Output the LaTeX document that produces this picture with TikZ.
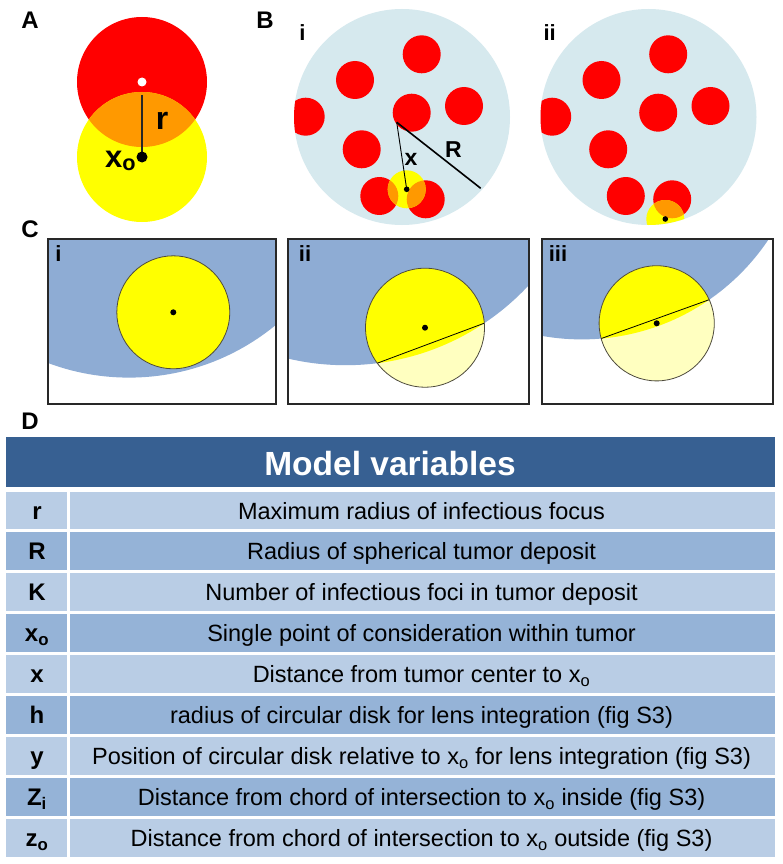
\documentclass[tikz,border=0pt]{standalone}
\usepackage{fontspec}
\setmainfont{Liberation Sans}
\usetikzlibrary{intersections}
\definecolor{redc}{RGB}{255,0,0}
\definecolor{yelc}{RGB}{255,255,0}
\definecolor{orac}{RGB}{255,153,0}
\definecolor{tumor}{RGB}{214,233,238}
\definecolor{bluec}{RGB}{142,172,212}
\definecolor{pale}{RGB}{255,255,192}
\definecolor{hdr}{RGB}{55,96,146}
\definecolor{rowL}{RGB}{185,205,229}
\definecolor{rowD}{RGB}{149,179,215}
\definecolor{framec}{RGB}{40,40,40}
\def\foci{(421.7,54.3),(355,80),(305.7,116.7),(411.7,112.7),(464,106),(361.7,149.3),(379.3,196),(425.7,199.3)}
\begin{document}
\begin{tikzpicture}[x=1pt,y=-1pt,
  panel/.style={font=\fontsize{24}{24}\selectfont\bfseries,inner sep=0pt},
  sublabel/.style={font=\fontsize{22}{22}\selectfont\bfseries,inner sep=0pt},
  boxframe/.style={draw=framec,line width=1.8pt},
  rim/.style={draw=black!80!yellow,line width=0.8pt},
  chord/.style={draw=black,line width=0.8pt},
  varfont/.style={font=\fontsize{24}{26}\selectfont\bfseries,inner sep=0pt,anchor=base},
  descfont/.style={font=\fontsize{23.5}{26}\selectfont,inner sep=0pt,anchor=base}]
\useasboundingbox (0,0) rectangle (782,864);
\fill[white] (0,0) rectangle (782,864);

% ---------- panel labels
\node[panel] (lA) at (30,20) {A};
\node[panel] (lB) at (265,20) {B};
\node[panel] (lC) at (30,229) {C};
\node[panel] (lD) at (30,421.5) {D};

% ---------- panel A
\coordinate (Ared) at (142,82);
\coordinate (xo) at (142,157);
\coordinate (Atop) at (142,95);
\fill[redc] (Ared) circle[radius=65pt];
\fill[yelc] (xo) circle[radius=65pt];
\begin{scope}
  \clip (Ared) circle[radius=65pt];
  \fill[orac] (xo) circle[radius=65pt];
\end{scope}
\fill[white] (Ared) circle[radius=4.5pt];
\draw[line width=1.3pt,black!85] (Atop) -- (xo);
\fill[black] (xo) circle[radius=5.5pt];
\node[font=\fontsize{32}{32}\selectfont\bfseries,inner sep=0pt] (lr) at (162,121) {r};
\node[font=\fontsize{31}{31}\selectfont\bfseries,inner sep=0pt,anchor=base west] (lxo) at (105,167) {x\textsubscript{o}};

% ---------- panel B i
\coordinate (Bi) at (402,117);
\fill[tumor] (Bi) circle[radius=108pt];
\begin{scope}
  \clip (Bi) circle[radius=108pt];
  \foreach \p in \foci {\fill[redc] \p circle[radius=19pt];}
\end{scope}
\coordinate (BiX) at (406.7,189.3);
\fill[yelc] (BiX) circle[radius=19pt];
\begin{scope}
  \clip (BiX) circle[radius=19pt];
  \fill[orac] (379.3,196) circle[radius=19pt];
  \fill[orac] (425.7,199.3) circle[radius=19pt];
\end{scope}
\coordinate (BiC) at (396.7,122.3);
\coordinate (BiR) at (480.7,188.3);
\draw[line width=0.9pt] (BiC) -- (BiX);
\draw[line width=1.6pt] (BiC) -- (BiR);
\fill[black] (BiX) circle[radius=2.8pt];
\node[font=\fontsize{23}{23}\selectfont\bfseries,inner sep=0pt] (lx) at (411,159) {x};
\node[font=\fontsize{23}{23}\selectfont\bfseries,inner sep=0pt] (lR) at (453.3,149.5) {R};
\node[sublabel] (lBi) at (302.5,32.5) {i};

% ---------- panel B ii
\begin{scope}[xshift=246.5pt]
  \coordinate (Bii) at (402,117);
  \fill[tumor] (Bii) circle[radius=108pt];
  \begin{scope}
    \clip (Bii) circle[radius=108pt];
    \foreach \p in \foci {\fill[redc] \p circle[radius=19pt];}
    \coordinate (BiiX) at (418.8,219);
    \fill[yelc] (BiiX) circle[radius=19pt];
    \clip (BiiX) circle[radius=19pt];
    \fill[orac] (425.7,199.3) circle[radius=19pt];
  \end{scope}
  \fill[black] (BiiX) circle[radius=2.8pt];
\end{scope}
\node[sublabel] (lBii) at (549.7,32.5) {ii};

% ---------- panel C i
\begin{scope}
  \clip (48.3,239.3) rectangle (276,404);
  \fill[bluec] (129,146.6) circle[radius=231pt];
\end{scope}
\coordinate (Y1) at (173.3,312.3);
\fill[yelc] (Y1) circle[radius=56.5pt];
\draw[rim] (Y1) circle[radius=56.5pt];
\fill[black] (Y1) circle[radius=3pt];
\draw[boxframe] (48.3,239.3) rectangle (276,404);
\node[sublabel] (lCi) at (58.5,254) {i};

% ---------- panel C ii
\coordinate (B2) at (345.5,115.2);
\coordinate (Y2) at (425,327.7);
\begin{scope}
  \clip (288.3,239.3) rectangle (528.7,404);
  \fill[bluec] (B2) circle[radius=250pt];
\end{scope}
\path[name path global=b2] (B2) circle[radius=250pt];
\fill[pale] (Y2) circle[radius=59.5pt];
\begin{scope}
  \clip (B2) circle[radius=250pt];
  \fill[yelc] (Y2) circle[radius=59.5pt];
\end{scope}
\path[name path global=y2] (Y2) circle[radius=59.5pt];
\path[name intersections={of=b2 and y2, by={c2a,c2b}}];
\draw[chord] (c2a) -- (c2b);
\draw[rim] (Y2) circle[radius=59.5pt];
\fill[black] (Y2) circle[radius=3pt];
\draw[boxframe] (288.3,239.3) rectangle (528.7,404);
\node[sublabel] (lCii) at (305,254) {ii};

% ---------- panel C iii
\coordinate (B3) at (581.7,114.9);
\coordinate (Y3) at (656.7,323.3);
\begin{scope}
  \clip (541.7,239.3) rectangle (772.7,404);
  \fill[bluec] (B3) circle[radius=224.5pt];
\end{scope}
\path[name path global=b3] (B3) circle[radius=224.5pt];
\fill[pale] (Y3) circle[radius=57.6pt];
\begin{scope}
  \clip (B3) circle[radius=224.5pt];
  \fill[yelc] (Y3) circle[radius=57.6pt];
\end{scope}
\path[name path global=y3] (Y3) circle[radius=57.6pt];
\path[name intersections={of=b3 and y3, by={c3a,c3b}}];
\draw[chord] (c3a) -- (c3b);
\draw[rim] (Y3) circle[radius=57.6pt];
\fill[black] (Y3) circle[radius=3pt];
\draw[boxframe] (541.7,239.3) rectangle (772.7,404);
\node[sublabel] (lCiii) at (558,254) {iii};

% ---------- table D
\fill[hdr] (6,437) rectangle (775,486.7);
\node[white,font=\fontsize{33.5}{34}\selectfont\bfseries,inner sep=0pt] (hd) at (390,463.5) {Model variables};
\foreach \v/\d [count=\i from 0] in {
  {r}/{Maximum radius of infectious focus},
  {R}/{Radius of spherical tumor deposit},
  {K}/{Number of infectious foci in tumor deposit},
  {x\textsubscript{o}}/{Single point of consideration within tumor},
  {x}/{Distance from tumor center to x\textsubscript{o}},
  {h}/{radius of circular disk for lens integration (fig S3)},
  {y}/{Position of circular disk relative to x\textsubscript{o} for lens integration (fig S3)},
  {Z\textsubscript{i}}/{Distance from chord of intersection to x\textsubscript{o} inside (fig S3)},
  {z\textsubscript{o}}/{Distance from chord of intersection to x\textsubscript{o} outside (fig S3)}}
{
  \pgfmathsetmacro\yt{\i==0 ? 491.7 : 530.5+40.97*(\i-1)+1.2}
  \pgfmathsetmacro\yb{\i==8 ? 856.7 : 530.5+40.97*\i-1.2}
  \pgfmathsetmacro\yc{(\i==0 ? 510.5 : 530.5+40.97*(\i-0.5))+9}
  \pgfmathtruncatemacro\odd{mod(\i,2)}
  \ifnum\odd=0 \def\rc{rowL}\else\def\rc{rowD}\fi
  \fill[\rc] (6,\yt) rectangle (775,\yb);
  \node[varfont] (v\i) at (37,\yc) {\v};
  \node[descfont] (d\i) at (421.5,\yc) {\d};
}
\fill[white] (67.1,491.7) rectangle (69.5,856.7);
\end{tikzpicture}
\end{document}
